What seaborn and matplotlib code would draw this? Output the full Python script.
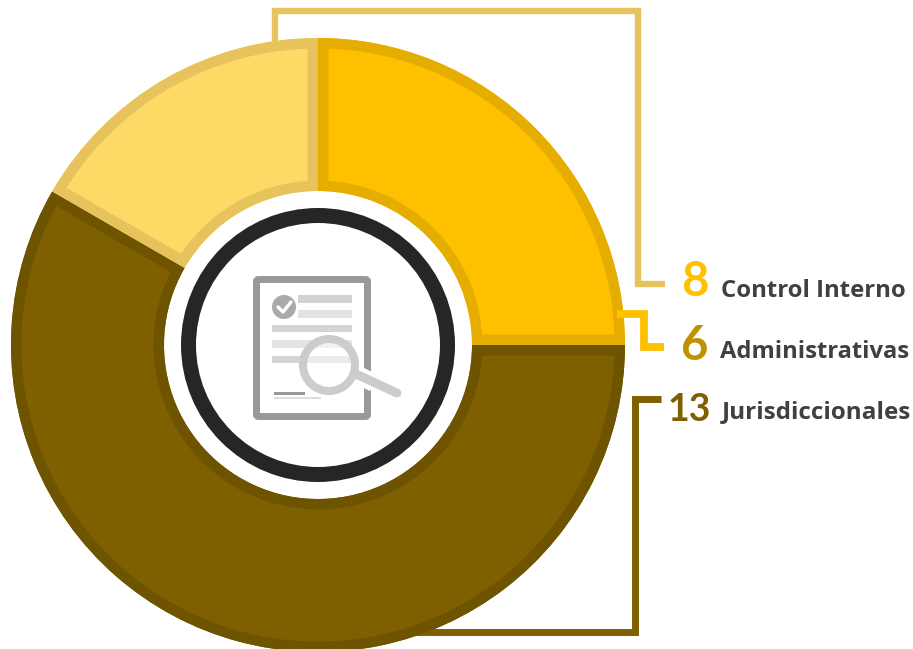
import matplotlib
matplotlib.use("Agg")
import matplotlib.pyplot as plt
import seaborn as sns
from matplotlib.patches import Circle, FancyBboxPatch, Rectangle, Wedge

# -------------------------------
# 1. Data
# -------------------------------
# the slices are not drawn in proportion to the counts, so keep both
slice_names = ["Administrativas", "Jurisdiccionales", "Control Interno"]
slice_shares = [90, 210, 60]
slice_fill = ["#FFC000", "#7F6000", "#FFD966"]
slice_edge = ["#E5AD00", "#6E5300", "#E6C35C"]

labels = ["Control Interno", "Administrativas", "Jurisdiccionales"]
counts = ["8", "6", "13"]
count_colors = ["#FFC000", "#BF9000", "#7F6000"]

sns.set_theme(style="white")
plt.rcParams["font.family"] = ["Open Sans", "DejaVu Sans"]

W, H = 913, 649
fig = plt.figure(figsize=(W / 100, H / 100), dpi=100)
ax = fig.add_axes([0, 0, 1, 1])


def Y(y):
    # picture coordinates run downwards
    return H - y


CX, CY = 318, Y(345)
ax.set_xlim(0, W)
ax.set_ylim(0, H)

# -------------------------------
# 2. Connector lines (under the donut)
# -------------------------------
ax.plot([275, 275, 638, 638, 665], [Y(42), Y(11), Y(11), Y(284), Y(284)],
        color="#E6C35C", lw=4.6, solid_joinstyle="miter", solid_capstyle="butt", zorder=1)
ax.plot([415, 635, 635, 661], [Y(632), Y(632), Y(399), Y(399)],
        color="#7F6000", lw=5, solid_joinstyle="miter", solid_capstyle="butt", zorder=1)

# -------------------------------
# 3. Donut
# -------------------------------
wedges, _ = ax.pie(slice_shares, colors=slice_fill, startangle=90, counterclock=False,
                   center=(CX, CY), radius=307, frame=True,
                   wedgeprops=dict(width=153, linewidth=0))
ax.set_xlim(0, W)
ax.set_ylim(0, H)
for w, edge in zip(wedges, slice_edge):
    w.set_zorder(2)
    # same outline again, stroke twice the visible width and clipped to the slice
    clip = Wedge(w.center, w.r, w.theta1, w.theta2, width=w.width, transform=ax.transData)
    stroke = Wedge(w.center, w.r, w.theta1, w.theta2, width=w.width, fc="none", ec=edge, lw=15, zorder=3)
    ax.add_patch(stroke)
    stroke.set_clip_path(clip)

ax.plot([617, 643.5, 643.5, 664], [Y(314), Y(314), Y(347), Y(347)],
        color="#FFC000", lw=5.6, solid_joinstyle="miter", solid_capstyle="butt", zorder=3.5)

ax.add_patch(Circle((CX, CY), 153, fc="white", ec="none", zorder=4))
ax.add_patch(Circle((CX, CY), 129.5, fc="white", ec="#262626", lw=10.8, zorder=5))

# -------------------------------
# 4. Document icon in the centre
# -------------------------------
ax.add_patch(FancyBboxPatch((256.5, Y(416.5)), 111, 137, boxstyle="round,pad=0,rounding_size=2",
                            fc="white", ec="#999999", lw=5, zorder=6))
for x0, x1, y0, y1, c in [(298, 352, 295, 303, "#D2D2D2"), (298, 352, 310, 318, "#E3E3E3"),
                          (272, 352, 325, 332, "#D5D5D5"), (272, 352, 340, 348, "#E3E3E3"),
                          (272, 352, 356, 363, "#D5D5D5"), (274, 305, 392, 395, "#999999"),
                          (274, 321, 396.5, 398.5, "#DDDDDD")]:
    ax.add_patch(Rectangle((x0, Y(y1)), x1 - x0, y1 - y0, fc=c, ec="none", zorder=7))
ax.add_patch(Circle((284, Y(307)), 12, fc="#AAAAAA", ec="none", zorder=7))
ax.plot([278, 283, 291], [Y(307), Y(312), Y(302)], color="white", lw=2.4, zorder=8)

# magnifier with a white halo on the handle
ax.plot([360, 374], [Y(376), Y(383)], color="white", lw=13, solid_capstyle="butt", zorder=8)
ax.plot([358, 397], [Y(375), Y(393)], color="#CCCCCC", lw=6.5, solid_capstyle="round", zorder=9)
ax.add_patch(Circle((329, Y(365)), 26, fc=(1, 1, 1, 0.55), ec="#CCCCCC", lw=5.8, zorder=9))

# -------------------------------
# 5. Labels
# -------------------------------
count_x = [695, 695, 689]
count_y = [296, 360, 421]
count_size = [34, 34, 27]
label_x = [721, 720, 722]
label_y = [297, 358, 418]
label_size = [17.2, 17.1, 17.5]
for i in range(3):
    ax.text(count_x[i], Y(count_y[i]), counts[i], color=count_colors[i], fontsize=count_size[i],
            family=["Lato", "DejaVu Sans"], weight="bold", ha="center", va="baseline", zorder=10)
    ax.text(label_x[i], Y(label_y[i]), labels[i], color="#404040", fontsize=label_size[i],
            weight="bold", ha="left", va="baseline", zorder=10)

ax.set_aspect("equal")
ax.axis("off")

fig.savefig("out.png", dpi=100, facecolor="white")
